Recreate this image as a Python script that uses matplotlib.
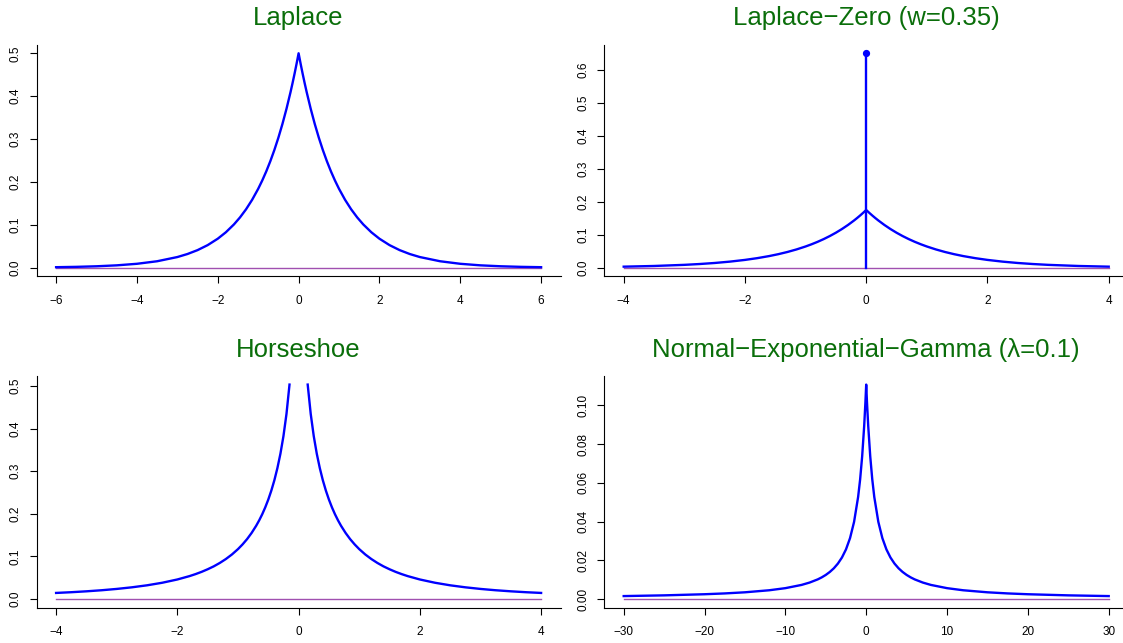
import matplotlib
matplotlib.use("Agg")
import matplotlib.pyplot as plt
import numpy as np

plt.rcParams["font.family"] = ["Liberation Sans", "DejaVu Sans"]

BLUE = "#0000ff"
PURPLE = "#a050b0"
TITLE_GREEN = "#0a6e0a"

# Laplace density
laplace_x = [-6, -5.5, -5, -4.5, -4, -3.5, -3, -2.75, -2.5, -2.25, -2, -1.8, -1.6, -1.45, -1.3,
             -1.15, -1, -0.9, -0.8, -0.7, -0.6, -0.5, -0.4, -0.3, -0.2, -0.15, -0.1, -0.05,
             0,
             0.05, 0.1, 0.15, 0.2, 0.3, 0.4, 0.5, 0.6, 0.7, 0.8, 0.9, 1, 1.15, 1.3, 1.45, 1.6,
             1.8, 2, 2.25, 2.5, 2.75, 3, 3.5, 4, 4.5, 5, 5.5, 6]
laplace_y = [0.00124, 0.00204, 0.00337, 0.00555, 0.00916, 0.01510, 0.02489, 0.03196, 0.04104,
             0.05270, 0.06767, 0.08265, 0.10095, 0.11729, 0.13627, 0.15832, 0.18394, 0.20328,
             0.22466, 0.24829, 0.27441, 0.30327, 0.33516, 0.37041, 0.40937, 0.43035, 0.45242,
             0.47561,
             0.5,
             0.47561, 0.45242, 0.43035, 0.40937, 0.37041, 0.33516, 0.30327, 0.27441, 0.24829,
             0.22466, 0.20328, 0.18394, 0.15832, 0.13627, 0.11729, 0.10095, 0.08265, 0.06767,
             0.05270, 0.04104, 0.03196, 0.02489, 0.01510, 0.00916, 0.00555, 0.00337, 0.00204,
             0.00124]

# Laplace with point mass at zero (w = 0.35)
lz_x = [-4, -3.5, -3, -2.75, -2.5, -2.25, -2, -1.8, -1.6, -1.45, -1.3, -1.15, -1, -0.9, -0.8,
        -0.7, -0.6, -0.5, -0.4, -0.3, -0.2, -0.15, -0.1, -0.05,
        0,
        0.05, 0.1, 0.15, 0.2, 0.3, 0.4, 0.5, 0.6, 0.7, 0.8, 0.9, 1, 1.15, 1.3, 1.45, 1.6, 1.8,
        2, 2.25, 2.5, 2.75, 3, 3.5, 4]
lz_y = [0.00321, 0.00529, 0.00871, 0.01119, 0.01436, 0.01845, 0.02368, 0.02893, 0.03533,
        0.04105, 0.04769, 0.05541, 0.06438, 0.07115, 0.07863, 0.08690, 0.09604, 0.10614,
        0.11731, 0.12964, 0.14328, 0.15062, 0.15835, 0.16646,
        0.175,
        0.16646, 0.15835, 0.15062, 0.14328, 0.12964, 0.11731, 0.10614, 0.09604, 0.08690,
        0.07863, 0.07115, 0.06438, 0.05541, 0.04769, 0.04105, 0.03533, 0.02893, 0.02368,
        0.01845, 0.01436, 0.01119, 0.00871, 0.00529, 0.00321]
lz_mass = 0.65

# Horseshoe density (infinite at zero -> gap in the line)
hs_x = [-4, -3.75, -3.5, -3.25, -3, -2.75, -2.5, -2.25, -2, -1.8, -1.7, -1.6, -1.5, -1.4, -1.3,
        -1.2, -1.1, -1.0, -0.925, -0.85, -0.775, -0.7, -0.65, -0.6, -0.55, -0.5, -0.45, -0.4,
        -0.35, -0.3, -0.25, -0.2, -0.15,
        0,
        0.15, 0.2, 0.25, 0.3, 0.35, 0.4, 0.45, 0.5, 0.55, 0.6, 0.65, 0.7, 0.775, 0.85, 0.925,
        1.0, 1.1, 1.2, 1.3, 1.4, 1.5, 1.6, 1.7, 1.8, 2, 2.25, 2.5, 2.75, 3, 3.25, 3.5, 3.75, 4]
hs_y = [0.0143, 0.0160, 0.0181, 0.0206, 0.0237, 0.0275, 0.0322, 0.0382, 0.0459, 0.0538, 0.0585,
        0.0638, 0.0699, 0.0767, 0.0847, 0.0939, 0.1046, 0.1172, 0.1282, 0.1407, 0.1552, 0.1720,
        0.1848, 0.1991, 0.2153, 0.2336, 0.2546, 0.2788, 0.3073, 0.3411, 0.3825, 0.4346, 0.5036,
        np.nan,
        0.5036, 0.4346, 0.3825, 0.3411, 0.3073, 0.2788, 0.2546, 0.2336, 0.2153, 0.1991, 0.1848,
        0.1720, 0.1552, 0.1407, 0.1282, 0.1172, 0.1046, 0.0939, 0.0847, 0.0767, 0.0699, 0.0638,
        0.0585, 0.0538, 0.0459, 0.0382, 0.0322, 0.0275, 0.0237, 0.0206, 0.0181, 0.0160, 0.0143]

# Normal-Exponential-Gamma density (lambda = 0.1)
neg_x = [-30, -25, -20, -17.5, -15, -12, -10, -8, -7, -6, -5.5, -5, -4.5, -4, -3.5, -3, -2.5,
         -2, -1.5, -1, -0.75, -0.5, -0.25, -0.1,
         0,
         0.1, 0.25, 0.5, 0.75, 1, 1.5, 2, 2.5, 3, 3.5, 4, 4.5, 5, 5.5, 6, 7, 8, 10, 12, 15,
         17.5, 20, 25, 30]
neg_y = [0.00152, 0.00189, 0.00247, 0.00289, 0.00347, 0.00452, 0.00561, 0.00728, 0.00850,
         0.01013, 0.01118, 0.01244, 0.01398, 0.01588, 0.01830, 0.02143, 0.02562, 0.03143,
         0.03983, 0.05267, 0.06178, 0.07361, 0.08933, 0.10131,
         0.11069,
         0.10131, 0.08933, 0.07361, 0.06178, 0.05267, 0.03983, 0.03143, 0.02562, 0.02143,
         0.01830, 0.01588, 0.01398, 0.01244, 0.01118, 0.01013, 0.00850, 0.00728, 0.00561,
         0.00452, 0.00347, 0.00289, 0.00247, 0.00189, 0.00152]

panels = [
    ("Laplace", laplace_x, laplace_y, [-6, -4, -2, 0, 2, 4, 6], np.arange(0, 0.51, 0.1), "%.1f"),
    ("Laplace\u2212Zero (w=0.35)", lz_x, lz_y, [-4, -2, 0, 2, 4], np.arange(0, 0.61, 0.1), "%.1f"),
    ("Horseshoe", hs_x, hs_y, [-4, -2, 0, 2, 4], np.arange(0, 0.51, 0.1), "%.1f"),
    ("Normal\u2212Exponential\u2212Gamma (\u03bb=0.1)", neg_x, neg_y,
     [-30, -20, -10, 0, 10, 20, 30], np.arange(0, 0.101, 0.02), "%.2f"),
]

W, H = 1123, 643
fig = plt.figure(figsize=(W / 100, H / 100), dpi=100)

# plot regions in pixels: left, top, right, bottom
boxes = [
    (36.7, 44.7, 560.5, 276.3),
    (604.3, 44.7, 1128.1, 276.3),
    (36.7, 376.0, 560.5, 607.6),
    (604.3, 376.0, 1128.1, 607.6),
]

for i, (title, xs, ys, xticks, yticks, yfmt) in enumerate(panels):
    l, t, r, b = boxes[i]
    ax = fig.add_axes([l / W, (H - b) / H, (r - l) / W, (b - t) / H])
    xs = np.array(xs, dtype=float)
    ys = np.array(ys, dtype=float)

    ymax = np.nanmax(ys)
    if i == 1:
        ymax = lz_mass
    xr = xs.max() - xs.min()
    ax.set_xlim(xs.min() - 0.04 * xr, xs.max() + 0.04 * xr)
    ax.set_ylim(-0.04 * ymax, ymax * 1.04)

    ax.plot([xs.min(), xs.max()], [0, 0], color=PURPLE, lw=1.0, zorder=2)
    ax.plot(xs, ys, color=BLUE, lw=1.7, zorder=3)
    if i == 1:
        ax.plot([0, 0], [0, lz_mass], color=BLUE, lw=1.7, zorder=3)
        ax.plot([0], [lz_mass], "o", color=BLUE, ms=4.2, zorder=4)

    for side in ("top", "right"):
        ax.spines[side].set_visible(False)
    for side in ("left", "bottom"):
        ax.spines[side].set_linewidth(0.8)

    ax.set_xticks(xticks)
    ax.set_yticks(yticks)
    ax.set_yticklabels([yfmt % v for v in yticks])
    ax.tick_params(axis="both", length=5, width=0.8, labelsize=8.5)
    ax.tick_params(axis="x", pad=8.5)
    ax.tick_params(axis="y", pad=6, labelrotation=90)
    for lab in ax.get_yticklabels():
        lab.set_verticalalignment("center")

    ax.set_title(title, color=TITLE_GREEN, fontsize=18.5, pad=14)

fig.savefig("out.png", dpi=100)
